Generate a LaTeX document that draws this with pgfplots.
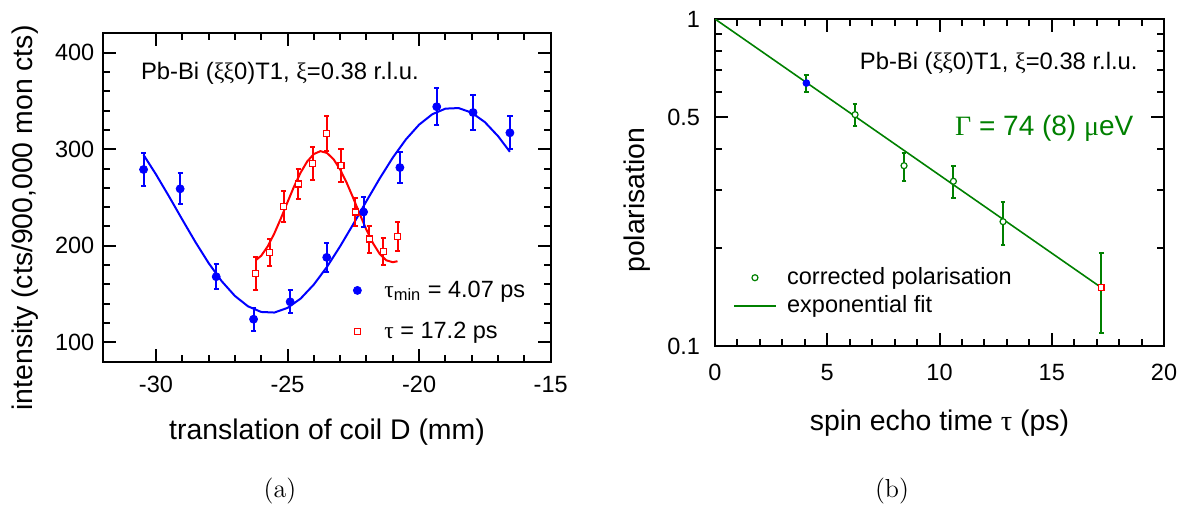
\documentclass[border=0pt]{standalone}
\usepackage{fontspec}
\usepackage{pgfplots}
\usepackage{pgfplotstable}
\pgfplotsset{compat=1.18}
\newfontfamily\arial{Liberation Sans}
\newfontfamily\grk{Liberation Serif}
\newcommand{\gr}[1]{{\grk #1}}
\definecolor{fitgreen}{rgb}{0,0.5,0}
\newcommand{\tickfont}{\arial\fontsize{11.75}{14}\selectfont}
\newcommand{\labfont}{\arial\fontsize{14.2}{17}\selectfont}
\pgfplotsset{
  myaxis/.style={
    scale only axis,
    axis line style={line width=1pt},
    every tick/.style={line width=1pt, black},
    tick align=inside,
    major tick length=6.5pt,
    minor tick length=3.5pt,
    tick label style={font=\tickfont},
    label style={font=\labfont},
  }
}
\pgfplotstableread{
x y e
-30.47 279 17
-29.08 259 16
-27.71 168 13
-26.29 124 12
-24.90 142 12
-23.51 188 15
-22.11 235 16
-20.73 281 16
-19.33 344 19
-17.95 338 18
-16.55 317 17
}\bluedata
\pgfplotstableread{
x y e
-26.21 171 17
-25.68 193 14
-25.14 241 16
-24.59 264 16
-24.05 285 17
-23.51 316 18
-22.97 283 17
-22.43 235 15
-21.90 207 14
-21.36 194 14
-20.82 210 15
}\reddata
\pgfplotstableread{
x y ep em
6.24 0.510 0.039 0.038
8.42 0.356 0.034 0.037
10.62 0.319 0.035 0.035
12.83 0.240 0.036 0.037
}\greendata
\begin{document}
\begin{tikzpicture}
\path[use as bounding box] (0,0) rectangle (591.5pt,-257pt);
\begin{axis}[myaxis,
  at={(51.65pt,-180.85pt)}, anchor=south west,
  width=223.7pt, height=164.2pt,
  xmin=-32, xmax=-15, ymin=80, ymax=420,
  xtick={-30,-25,-20,-15}, xticklabels={-30,-25,-20,-15},
  ytick={100,200,300,400}, yticklabels={100,200,300,400},
  minor x tick num=4, minor y tick num=4,
  xticklabel style={yshift=-3.6pt},
  yticklabel style={xshift=-1pt},
  xlabel={translation of coil D (mm)},
  ylabel={intensity (cts/900,000 mon cts)},
  xlabel style={at={(axis description cs:0.5,-0.213)}, anchor=center},
  ylabel style={at={(axis description cs:-0.175,0.4376)}, anchor=center},
  legend style={draw=none, fill=none, font=\tickfont, at={(axis description cs:0.5335,0.154)}, anchor=west, row sep=7pt, inner sep=0pt},
  legend cell align=left,
  legend image code/.code={\path[draw=none, fill=none] (0pt,-1pt) rectangle (19pt,1pt); \draw[mark repeat=2,mark phase=2,#1] plot coordinates {(0pt,0pt) (7.5pt,0pt) (15pt,0pt)};},
]
\addplot[blue, line width=1pt, forget plot] coordinates {
(-30.47,294.1) (-30.0,274.0) (-29.5,251.0) (-29.0,227.2) (-28.5,203.9) (-28.0,182.2)
(-27.5,163.3) (-27.0,148.1) (-26.5,137.3) (-26.0,131.5) (-25.5,130.9) (-25.0,135.7)
(-24.5,145.4) (-24.0,159.9) (-23.5,178.2) (-23.0,199.5) (-22.5,222.5) (-22.0,246.3)
(-21.5,269.6) (-21.0,291.3) (-20.5,310.2) (-20.0,325.4) (-19.5,336.2) (-19.0,342.0)
(-18.5,342.6) (-18.0,337.8) (-17.5,328.0) (-17.0,313.5) (-16.55,297.3)};
\addplot[red, line width=1pt, forget plot] coordinates {
(-26.21,185.0) (-26.0,189.7) (-25.75,199.5) (-25.5,212.9) (-25.25,228.5) (-25.0,245.2)
(-24.75,261.5) (-24.5,275.9) (-24.25,287.4) (-24.0,295.0) (-23.75,298.0) (-23.5,296.1)
(-23.25,289.6) (-23.0,279.0) (-22.75,265.1) (-22.5,249.2) (-22.25,232.5) (-22.0,216.5)
(-21.75,202.6) (-21.5,191.7) (-21.25,185.0) (-21.0,183.0) (-20.82,184.0)};
\addplot[blue, only marks, mark=*, mark size=2pt,
  error bars/.cd, y dir=both, y explicit,
  error bar style={line width=1pt, blue},
  error mark options={blue, line width=1pt, mark size=1.3pt, rotate=90}]
  table[x=x, y=y, y error=e] {\bluedata};
\addlegendentry{\gr{τ}\textsubscript{min} = 4.07 ps}
\addplot[red, only marks, mark=square*, mark size=1.5pt, mark options={fill=white, line width=0.6pt},
  error bars/.cd, y dir=both, y explicit,
  error bar style={line width=1pt, red},
  error mark options={red, line width=1pt, mark size=1.3pt, rotate=90}]
  table[x=x, y=y, y error=e] {\reddata};
\addlegendentry{\gr{τ} = 17.2 ps}
\node[font=\arial\fontsize{11.9}{14}\selectfont, anchor=west] at (axis description cs:0.0686,0.879) {Pb-Bi (\gr{ξξ}0)T1, \gr{ξ}=0.38 r.l.u.};
\end{axis}

\begin{axis}[myaxis, ymode=log,
  at={(357.5pt,-173pt)}, anchor=south west,
  width=224.5pt, height=163.5pt,
  xmin=0, xmax=20, ymin=0.1, ymax=1,
  xtick={0,5,10,15,20}, xticklabels={0,5,10,15,20},
  ytick={0.1,0.5,1}, yticklabels={0.1,0.5,1},
  minor x tick num=4,
  minor ytick={0.2,0.3,0.4,0.6,0.7,0.8,0.9},
  xticklabel style={yshift=-5.4pt},
  yticklabel style={xshift=-4pt},
  xlabel={spin echo time \gr{τ} (ps)},
  ylabel={polarisation},
  xlabel style={at={(axis description cs:0.5,-0.235)}, anchor=center},
  ylabel style={at={(axis description cs:-0.174,0.446)}, anchor=center},
  legend style={draw=none, fill=none, font=\tickfont, at={(axis description cs:0.040,0.166)}, anchor=west, row sep=0pt, inner sep=0pt},
  legend cell align=left,
  legend image code/.code={\path[draw=none, fill=none] (0pt,-1pt) rectangle (24.5pt,1pt); \draw[mark repeat=2,mark phase=2,#1] plot coordinates {(0pt,0pt) (10.4pt,0pt) (20.8pt,0pt)};},
]
\addplot[fitgreen, line width=0.8pt, forget plot] coordinates {(0,1) (17.2,0.151)};
\addplot[fitgreen, only marks, mark=*, mark size=1.5pt, mark options={fill=white, line width=0.6pt},
  error bars/.cd, y dir=both, y explicit,
  error bar style={line width=1pt, fitgreen},
  error mark options={fitgreen, line width=1pt, mark size=1.2pt, rotate=90}]
  table[x=x, y=y, y error plus=ep, y error minus=em] {\greendata};
\addlegendentry{corrected polarisation}
\addlegendimage{fitgreen, line width=0.8pt}
\addlegendentry{exponential fit}
\addplot[blue, only marks, mark=*, mark size=1.7pt, forget plot,
  error bars/.cd, y dir=both, y explicit,
  error bar style={line width=1pt, fitgreen},
  error mark options={fitgreen, line width=1pt, mark size=1.2pt, rotate=90}]
  coordinates {(4.07,0.637) +- (0,0.038)};
\addplot[red, only marks, mark=square*, mark size=1.4pt, mark options={fill=white, line width=0.6pt}, forget plot,
  error bars/.cd, y dir=both, y explicit,
  error bar style={line width=1pt, fitgreen},
  error mark options={fitgreen, line width=1pt, mark size=1.2pt, rotate=90}]
  coordinates {(17.2,0.151) +- (0,0.0415)};
\node[font=\arial\fontsize{11.9}{14}\selectfont, anchor=west] at (axis description cs:0.307,0.865) {Pb-Bi (\gr{ξξ}0)T1, \gr{ξ}=0.38 r.l.u.};
\node[font=\arial\fontsize{14}{17}\selectfont, text=fitgreen, anchor=west] at (axis description cs:0.519,0.667) {\gr{Γ} = 74 (8) \gr{μ}eV};
\end{axis}
\node[font=\fontsize{13}{15}\selectfont] at (140pt,-245.5pt) {(a)};
\node[font=\fontsize{13}{15}\selectfont] at (446pt,-245.5pt) {(b)};
\end{tikzpicture}
\end{document}
